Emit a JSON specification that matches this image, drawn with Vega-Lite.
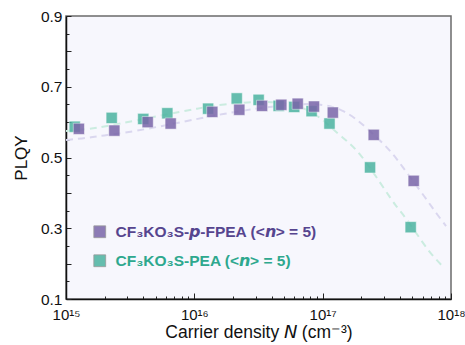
{
  "$schema": "https://vega.github.io/schema/vega-lite/v6.json",
  "width": 385,
  "height": 283,
  "autosize": {"type": "none"},
  "padding": {"left": 66, "top": 16, "right": 14, "bottom": 46},
  "background": "#ffffff",
  "config": {
    "font": "Liberation Sans",
    "view": {"fill": "#f7f7fd", "stroke": "#6b6b6b", "strokeWidth": 1.5},
    "axis": {"grid": false, "labelFont": "Liberation Sans", "titleFont": "Liberation Sans", "labelColor": "#111", "titleColor": "#111", "titleFontWeight": "normal", "tickColor": "#222", "domainColor": "#111", "domainWidth": 1.5, "tickWidth": 1}
  },
  "resolve": {"axis": {"x": "independent", "y": "independent"}},
  "datasets": {
    "pts": [
      {"N": 1.17e15, "PLQY": 0.587, "sample": "CF₃KO₃S-PEA (<𝙣> = 5)"},
      {"N": 2.27e15, "PLQY": 0.612, "sample": "CF₃KO₃S-PEA (<𝙣> = 5)"},
      {"N": 4.0e15, "PLQY": 0.609, "sample": "CF₃KO₃S-PEA (<𝙣> = 5)"},
      {"N": 6.16e15, "PLQY": 0.625, "sample": "CF₃KO₃S-PEA (<𝙣> = 5)"},
      {"N": 1.28e16, "PLQY": 0.638, "sample": "CF₃KO₃S-PEA (<𝙣> = 5)"},
      {"N": 2.14e16, "PLQY": 0.667, "sample": "CF₃KO₃S-PEA (<𝙣> = 5)"},
      {"N": 3.17e16, "PLQY": 0.663, "sample": "CF₃KO₃S-PEA (<𝙣> = 5)"},
      {"N": 4.54e16, "PLQY": 0.646, "sample": "CF₃KO₃S-PEA (<𝙣> = 5)"},
      {"N": 6.0e16, "PLQY": 0.643, "sample": "CF₃KO₃S-PEA (<𝙣> = 5)"},
      {"N": 8.2e16, "PLQY": 0.631, "sample": "CF₃KO₃S-PEA (<𝙣> = 5)"},
      {"N": 1.13e17, "PLQY": 0.596, "sample": "CF₃KO₃S-PEA (<𝙣> = 5)"},
      {"N": 2.34e17, "PLQY": 0.472, "sample": "CF₃KO₃S-PEA (<𝙣> = 5)"},
      {"N": 4.85e17, "PLQY": 0.303, "sample": "CF₃KO₃S-PEA (<𝙣> = 5)"},
      {"N": 1.26e15, "PLQY": 0.581, "sample": "CF₃KO₃S-𝙥-FPEA (<𝙣> = 5)"},
      {"N": 2.38e15, "PLQY": 0.576, "sample": "CF₃KO₃S-𝙥-FPEA (<𝙣> = 5)"},
      {"N": 4.33e15, "PLQY": 0.600, "sample": "CF₃KO₃S-𝙥-FPEA (<𝙣> = 5)"},
      {"N": 6.54e15, "PLQY": 0.596, "sample": "CF₃KO₃S-𝙥-FPEA (<𝙣> = 5)"},
      {"N": 1.38e16, "PLQY": 0.629, "sample": "CF₃KO₃S-𝙥-FPEA (<𝙣> = 5)"},
      {"N": 2.24e16, "PLQY": 0.635, "sample": "CF₃KO₃S-𝙥-FPEA (<𝙣> = 5)"},
      {"N": 3.37e16, "PLQY": 0.646, "sample": "CF₃KO₃S-𝙥-FPEA (<𝙣> = 5)"},
      {"N": 4.76e16, "PLQY": 0.649, "sample": "CF₃KO₃S-𝙥-FPEA (<𝙣> = 5)"},
      {"N": 6.39e16, "PLQY": 0.652, "sample": "CF₃KO₃S-𝙥-FPEA (<𝙣> = 5)"},
      {"N": 8.56e16, "PLQY": 0.644, "sample": "CF₃KO₃S-𝙥-FPEA (<𝙣> = 5)"},
      {"N": 1.20e17, "PLQY": 0.627, "sample": "CF₃KO₃S-𝙥-FPEA (<𝙣> = 5)"},
      {"N": 2.50e17, "PLQY": 0.564, "sample": "CF₃KO₃S-𝙥-FPEA (<𝙣> = 5)"},
      {"N": 5.12e17, "PLQY": 0.434, "sample": "CF₃KO₃S-𝙥-FPEA (<𝙣> = 5)"}
    ],
    "fit": [
      {"N": 1.0e15, "PLQY": 0.5495, "curve": "FPEA"},
      {"N": 1.46e15, "PLQY": 0.555, "curve": "FPEA"},
      {"N": 1.91e15, "PLQY": 0.562, "curve": "FPEA"},
      {"N": 3.27e15, "PLQY": 0.572, "curve": "FPEA"},
      {"N": 9.59e15, "PLQY": 0.606, "curve": "FPEA"},
      {"N": 1.643e16, "PLQY": 0.623, "curve": "FPEA"},
      {"N": 3.25e16, "PLQY": 0.640, "curve": "FPEA"},
      {"N": 5.57e16, "PLQY": 0.650, "curve": "FPEA"},
      {"N": 9.88e16, "PLQY": 0.653, "curve": "FPEA"},
      {"N": 1.44e17, "PLQY": 0.634, "curve": "FPEA"},
      {"N": 1.79e17, "PLQY": 0.611, "curve": "FPEA"},
      {"N": 2.22e17, "PLQY": 0.583, "curve": "FPEA"},
      {"N": 3.35e17, "PLQY": 0.521, "curve": "FPEA"},
      {"N": 4.0e17, "PLQY": 0.484, "curve": "FPEA"},
      {"N": 6.5e17, "PLQY": 0.380, "curve": "FPEA"},
      {"N": 7.51e17, "PLQY": 0.347, "curve": "FPEA"},
      {"N": 9.15e17, "PLQY": 0.306, "curve": "FPEA"},
      {"N": 1.0e15, "PLQY": 0.575, "curve": "PEA"},
      {"N": 1.51e15, "PLQY": 0.580, "curve": "PEA"},
      {"N": 1.98e15, "PLQY": 0.587, "curve": "PEA"},
      {"N": 7.73e15, "PLQY": 0.6295, "curve": "PEA"},
      {"N": 1.01e16, "PLQY": 0.637, "curve": "PEA"},
      {"N": 1.67e16, "PLQY": 0.651, "curve": "PEA"},
      {"N": 3.25e16, "PLQY": 0.659, "curve": "PEA"},
      {"N": 5.09e16, "PLQY": 0.655, "curve": "PEA"},
      {"N": 7.28e16, "PLQY": 0.640, "curve": "PEA"},
      {"N": 9.53e16, "PLQY": 0.614, "curve": "PEA"},
      {"N": 1.29e17, "PLQY": 0.570, "curve": "PEA"},
      {"N": 1.63e17, "PLQY": 0.540, "curve": "PEA"},
      {"N": 2.03e17, "PLQY": 0.505, "curve": "PEA"},
      {"N": 3.17e17, "PLQY": 0.400, "curve": "PEA"},
      {"N": 3.66e17, "PLQY": 0.366, "curve": "PEA"},
      {"N": 4.38e17, "PLQY": 0.333, "curve": "PEA"},
      {"N": 5.94e17, "PLQY": 0.262, "curve": "PEA"},
      {"N": 7.11e17, "PLQY": 0.224, "curve": "PEA"},
      {"N": 8.67e17, "PLQY": 0.191, "curve": "PEA"}
    ]
  },
  "layer": [
    {
      "data": {"name": "fit"},
      "mark": {"type": "line", "strokeDash": [7, 5], "strokeWidth": 2, "interpolate": "basis", "clip": true},
      "encoding": {
        "x": {"field": "N", "type": "quantitative", "scale": {"type": "log", "domain": [1e15, 1e18], "nice": false},
          "axis": {"orient": "bottom", "values": [2e15, 3e15, 4e15, 5e15, 6e15, 7e15, 8e15, 9e15, 2e16, 3e16, 4e16, 5e16, 6e16, 7e16, 8e16, 9e16, 2e17, 3e17, 4e17, 5e17, 6e17, 7e17, 8e17, 9e17], "labels": false, "domain": false, "title": null, "tickSize": -3}},
        "y": {"field": "PLQY", "type": "quantitative", "scale": {"domain": [0.1, 0.9], "nice": false, "zero": false},
          "axis": {"orient": "left", "values": [0.15, 0.25, 0.35, 0.45, 0.55, 0.65, 0.75, 0.85], "labels": false, "domain": false, "title": null, "tickSize": -3}},
        "stroke": {"field": "curve", "type": "nominal", "scale": {"domain": ["FPEA", "PEA"], "range": ["#dad7ef", "#cbece0"]}, "legend": null}
      }
    },
    {
      "data": {"name": "pts"},
      "mark": {"type": "square", "size": 125, "opacity": 0.85, "stroke": "#ffffff", "strokeWidth": 1, "strokeOpacity": 0.5},
      "encoding": {
        "x": {"field": "N", "type": "quantitative", "scale": {"type": "log", "domain": [1e15, 1e18], "nice": false},
          "axis": {"orient": "bottom", "values": [1e15, 1e16, 1e17, 1e18], "tickSize": -6, "labelPadding": 14, "labelFontSize": 15, "labelExpr": "'10' + (datum.value < 5e15 ? '¹⁵' : datum.value < 5e16 ? '¹⁶' : datum.value < 5e17 ? '¹⁷' : '¹⁸')", "labelDx": 5, "title": "Carrier density 𝘕 (cm⁻³)", "titleFontSize": 17.5, "titlePadding": 1, "labelFlush": false}},
        "y": {"field": "PLQY", "type": "quantitative", "scale": {"domain": [0.1, 0.9], "nice": false, "zero": false},
          "axis": {"orient": "left", "values": [0.1, 0.2, 0.3, 0.4, 0.5, 0.6, 0.7, 0.8, 0.9], "tickSize": -5, "labelPadding": 9, "labelFontSize": 15.5, "labelExpr": "(round(datum.value*10) % 2 == 1) ? format(datum.value, '.1f') : ''", "title": "PLQY", "titleFontSize": 17, "titlePadding": 10, "labelFlush": false}},
        "color": {"field": "sample", "type": "nominal",
          "scale": {"domain": ["CF₃KO₃S-𝙥-FPEA (<𝙣> = 5)", "CF₃KO₃S-PEA (<𝙣> = 5)"], "range": ["#7a66a9", "#4cb4a1"]},
          "legend": {"orient": "none", "legendX": 26, "legendY": 208, "title": null, "symbolType": "square", "symbolSize": 140, "symbolOpacity": 0.85, "symbolStrokeColor": "#8a8a8a", "symbolStrokeWidth": 0.8, "labelFontSize": 15.5, "labelFontWeight": "bold", "labelOffset": 8, "rowPadding": 12, "labelLimit": 400,
            "encode": {"labels": {"update": {"fill": {"signal": "indexof(datum.label, 'FPEA') >= 0 ? '#56458f' : '#2ea88e'"}}}}}
        }
      }
    }
  ]
}
